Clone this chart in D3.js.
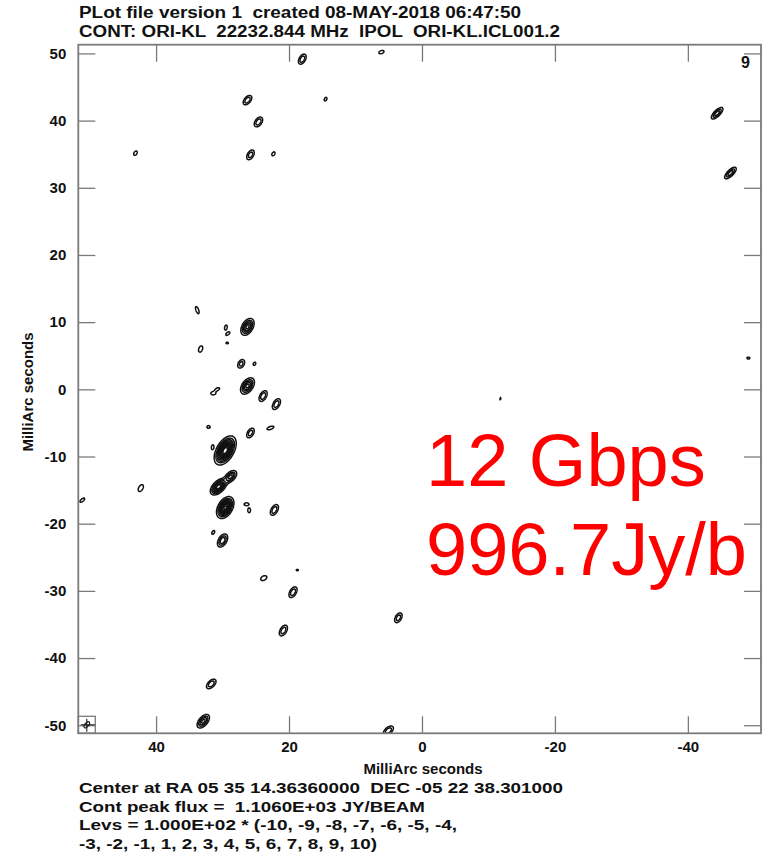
<!DOCTYPE html>
<html>
<head>
<meta charset="utf-8">
<script src="https://cdn.jsdelivr.net/npm/d3@7"></script>
<style>
  body { margin: 0; background: #fff; }
  text { font-family: "Liberation Sans", Arial, Helvetica, sans-serif; white-space: pre; }
</style>
</head>
<body>
<svg id="plot" width="763" height="855"></svg>
<script>
// Axis ticks (milliarcseconds) and contour levels (Jy/beam)
const xTicks = [40, 20, 0, -20, -40];
const yTicks = [50, 40, 30, 20, 10, 0, -10, -20, -30, -40, -50];
const contourLevels = [100, 200, 300, 400, 500, 600, 700, 800, 900, 1000];

// Clean components: offset x/y (mas), peak (Jy/beam), gaussian sigma major/minor (mas), tilt (deg)
const compX    = [18.0, 6.1, 26.25, 14.5, 24.6, 25.8, 22.35, 43.1, -44.4, -46.4,
                  33.8, 29.5, 29.2, 26.25, 29.3, 33.3, 27.2, 25.2, 30.8, 31.4,
                  26.25, 23.9, 21.9, 32.1, 25.8, 22.8, 29.6, 31.5, 30.6, 28.8,
                  29.6, 26.4, 26.0, 22.2, 31.4, 30.0, 23.8, 18.75, 19.4, 20.85,
                  3.55, 42.3, 51.1, 31.7, 32.9, 5.05, -11.8, -49.1];
const compY    = [49.15, 50.2, 43.05, 43.2, 39.8, 34.9, 35.05, 35.15, 41.1, 32.2,
                  11.8, 9.2, 8.3, 9.3, 6.9, 6.0, 3.8, 3.8, 0.0, -0.6,
                  0.5, -1.0, -2.2, -5.6, -6.5, -5.75, -9.1, -8.6, -14.5, -13.0,
                  -17.6, -17.1, -18.0, -17.95, -21.3, -22.5, -28.1, -26.9, -30.2, -35.9,
                  -34.0, -14.7, -16.5, -43.85, -49.4, -50.8, -1.4, 4.65];
const compPeak = [300, 150, 300, 130, 300, 280, 140, 150, 380, 380,
                  170, 160, 150, 550, 120, 200, 260, 130, 160, 170,
                  550, 300, 300, 140, 280, 180, 1106, 160, 800, 450,
                  950, 170, 170, 300, 150, 400, 200, 115, 300, 300,
                  280, 200, 160, 300, 450, 300, 110, 130];
const compMaj  = [0.56, 0.45, 0.56, 0.4, 0.56, 0.56, 0.4, 0.4, 0.7, 0.7,
                  0.55, 0.4, 0.4, 0.75, 0.3, 0.42, 0.5, 0.35, 0.4, 0.35,
                  0.75, 0.6, 0.6, 0.3, 0.56, 0.5, 1.1, 0.35, 0.75, 0.65,
                  0.85, 0.35, 0.35, 0.6, 0.35, 0.65, 0.42, 0.3, 0.6, 0.6,
                  0.56, 0.48, 0.45, 0.6, 0.7, 0.6, 0.4, 0.3];
const compMin  = [0.32, 0.25, 0.32, 0.25, 0.34, 0.32, 0.25, 0.25, 0.28, 0.28,
                  0.2, 0.2, 0.2, 0.45, 0.2, 0.24, 0.33, 0.25, 0.2, 0.22,
                  0.45, 0.33, 0.33, 0.25, 0.32, 0.2, 0.6, 0.18, 0.42, 0.38,
                  0.52, 0.2, 0.2, 0.33, 0.2, 0.38, 0.27, 0.2, 0.33, 0.33,
                  0.32, 0.27, 0.2, 0.33, 0.38, 0.33, 0.15, 0.2];
const compTilt = [60, 20, 50, 60, 55, 60, 60, 60, 45, 45,
                  110, 80, 40, 60, 0, 70, 60, 60, 30, 0,
                  55, 60, 60, 0, 60, 20, 60, 80, 45, 45,
                  60, 0, 90, 60, 60, 60, 30, 0, 60, 60,
                  60, 60, 40, 45, 50, 40, 80, 0];

// Restoring beam (mas, deg)
const beamMaj = 0.55, beamMin = 0.28, beamTilt = 50;

const headerLines = [
  "PLot file version 1  created 08-MAY-2018 06:47:50",
  "CONT: ORI-KL  22232.844 MHz  IPOL  ORI-KL.ICL001.2"
];
const footerLines = [
  "Center at RA 05 35 14.36360000  DEC -05 22 38.301000",
  "Cont peak flux =  1.1060E+03 JY/BEAM",
  "Levs = 1.000E+02 * (-10, -9, -8, -7, -6, -5, -4,",
  "-3, -2, -1, 1, 2, 3, 4, 5, 6, 7, 8, 9, 10)"
];
const noteLines = ["12 Gbps", "996.7Jy/b"];

const svg = d3.select("#plot");
const X0 = 78.3, X1 = 761, Y0 = 44.7, Y1 = 733.3;
const x = d3.scaleLinear().domain([51.7, -51.0]).range([X0, X1]);
const y = d3.scaleLinear().domain([51.3, -51.2]).range([Y0, Y1]);

// ---- Model brightness on a fine grid, then contour it ----
const step = 0.5;
const nx = Math.ceil((X1 - X0) / step), ny = Math.ceil((Y1 - Y0) / step);
const grid = new Float64Array(nx * ny);
const pxPerMas = x(0) - x(1);
compX.forEach((cxm, k) => {
  const cx = x(cxm), cy = y(compY[k]);
  const sA = compMaj[k] * pxPerMas, sB = compMin[k] * pxPerMas;
  const th = compTilt[k] * Math.PI / 180, c = Math.cos(th), s = Math.sin(th);
  const R = 4.5 * sA;
  const i0 = Math.max(0, Math.floor((cx - R - X0) / step)), i1 = Math.min(nx - 1, Math.ceil((cx + R - X0) / step));
  const j0 = Math.max(0, Math.floor((cy - R - Y0) / step)), j1 = Math.min(ny - 1, Math.ceil((cy + R - Y0) / step));
  for (let j = j0; j <= j1; j++) {
    const dy = -((Y0 + (j + 0.5) * step) - cy);
    for (let i = i0; i <= i1; i++) {
      const dx = (X0 + (i + 0.5) * step) - cx;
      const u = dx * c + dy * s, v = -dx * s + dy * c;
      grid[j * nx + i] += compPeak[k] * Math.exp(-0.5 * (u * u / (sA * sA) + v * v / (sB * sB)));
    }
  }
});

const contours = d3.contours().size([nx, ny]).thresholds(contourLevels)(grid);
const path = d3.geoPath(d3.geoIdentity().scale(step).translate([X0, Y0]));

svg.append("clipPath").attr("id", "clip")
  .append("rect").attr("x", X0).attr("y", Y0).attr("width", X1 - X0).attr("height", Y1 - Y0);

svg.append("g").attr("clip-path", "url(#clip)")
  .selectAll("path").data(contours).join("path")
  .attr("d", path)
  .attr("fill", "none")
  .attr("stroke", "#111")
  .attr("stroke-width", 1.5);

// ---- Frame and inward ticks ----
const frameColor = "#7a7a7a";
const tickLen = 17;
function styleAxis(g) {
  g.select(".domain").remove();
  g.selectAll(".tick line").attr("stroke", frameColor).attr("stroke-width", 1.3);
  g.selectAll(".tick text")
    .attr("fill", "#111").attr("font-size", 15).attr("font-weight", "bold")
    .attr("font-family", "\"Liberation Sans\", Arial, sans-serif");
}
svg.append("g").attr("transform", `translate(${X0},0)`)
  .call(d3.axisLeft(y).tickValues(yTicks).tickSize(-tickLen).tickPadding(12).tickFormat(d => String(d)))
  .call(styleAxis);
svg.append("g").attr("transform", `translate(${X1},0)`)
  .call(d3.axisRight(y).tickValues(yTicks).tickSize(-tickLen).tickFormat(""))
  .call(styleAxis);
svg.append("g").attr("transform", `translate(0,${Y1})`)
  .call(d3.axisBottom(x).tickValues(xTicks).tickSize(-tickLen).tickPadding(8).tickFormat(d => String(d)))
  .call(styleAxis);
svg.append("g").attr("transform", `translate(0,${Y0})`)
  .call(d3.axisTop(x).tickValues(xTicks).tickSize(-tickLen).tickFormat(""))
  .call(styleAxis);

svg.append("rect")
  .attr("x", X0).attr("y", Y0).attr("width", X1 - X0).attr("height", Y1 - Y0)
  .attr("fill", "none").attr("stroke", frameColor).attr("stroke-width", 1.8);

// ---- Beam box in the lower-left corner ----
const bx = X0, by = Y1 - 17, bw = 17, bh = 17;
svg.append("rect").attr("x", bx).attr("y", by).attr("width", bw).attr("height", bh)
  .attr("fill", "none").attr("stroke", frameColor).attr("stroke-width", 1.3);
const bcx = bx + bw / 2, bcy = by + bh / 2;
svg.append("ellipse")
  .attr("cx", bcx).attr("cy", bcy)
  .attr("rx", beamMaj * pxPerMas).attr("ry", beamMin * pxPerMas)
  .attr("transform", `rotate(${-beamTilt},${bcx},${bcy})`)
  .attr("fill", "none").attr("stroke", "#111").attr("stroke-width", 1.1);
svg.append("line").attr("x1", bcx - 6).attr("x2", bcx + 8).attr("y1", bcy).attr("y2", bcy)
  .attr("stroke", "#111").attr("stroke-width", 1);
svg.append("line").attr("x1", bcx).attr("x2", bcx).attr("y1", bcy - 6).attr("y2", bcy + 7)
  .attr("stroke", "#111").attr("stroke-width", 1);

// ---- Text ----
const headerWidths = [442, 481];
headerLines.forEach((t, i) => {
  svg.append("text").attr("x", 79).attr("y", 18 + i * 19)
    .attr("font-size", 16).attr("font-weight", "bold").attr("fill", "#111")
    .attr("textLength", headerWidths[i]).attr("lengthAdjust", "spacingAndGlyphs")
    .text(t);
});

svg.append("text").attr("x", 741).attr("y", 68)
  .attr("font-size", 16).attr("font-weight", "bold").attr("fill", "#111").text("9");

svg.append("text").attr("x", 423).attr("y", 774).attr("text-anchor", "middle")
  .attr("font-size", 15).attr("font-weight", "bold").attr("fill", "#111")
  .text("MilliArc seconds");
svg.append("text").attr("transform", "translate(33,392) rotate(-90)").attr("text-anchor", "middle")
  .attr("font-size", 15).attr("font-weight", "bold").attr("fill", "#111")
  .text("MilliArc seconds");

const footerWidths = [484, 346, 378, 298];
footerLines.forEach((t, i) => {
  svg.append("text").attr("x", 79).attr("y", 793 + i * 18.7)
    .attr("font-size", 15).attr("font-weight", "bold").attr("fill", "#111")
    .attr("textLength", footerWidths[i]).attr("lengthAdjust", "spacingAndGlyphs")
    .text(t);
});

noteLines.forEach((t, i) => {
  svg.append("text").attr("x", 426).attr("y", 486 + i * 89)
    .attr("font-size", 74).attr("fill", "#ff0000")
    .text(t);
});
</script>
</body>
</html>
